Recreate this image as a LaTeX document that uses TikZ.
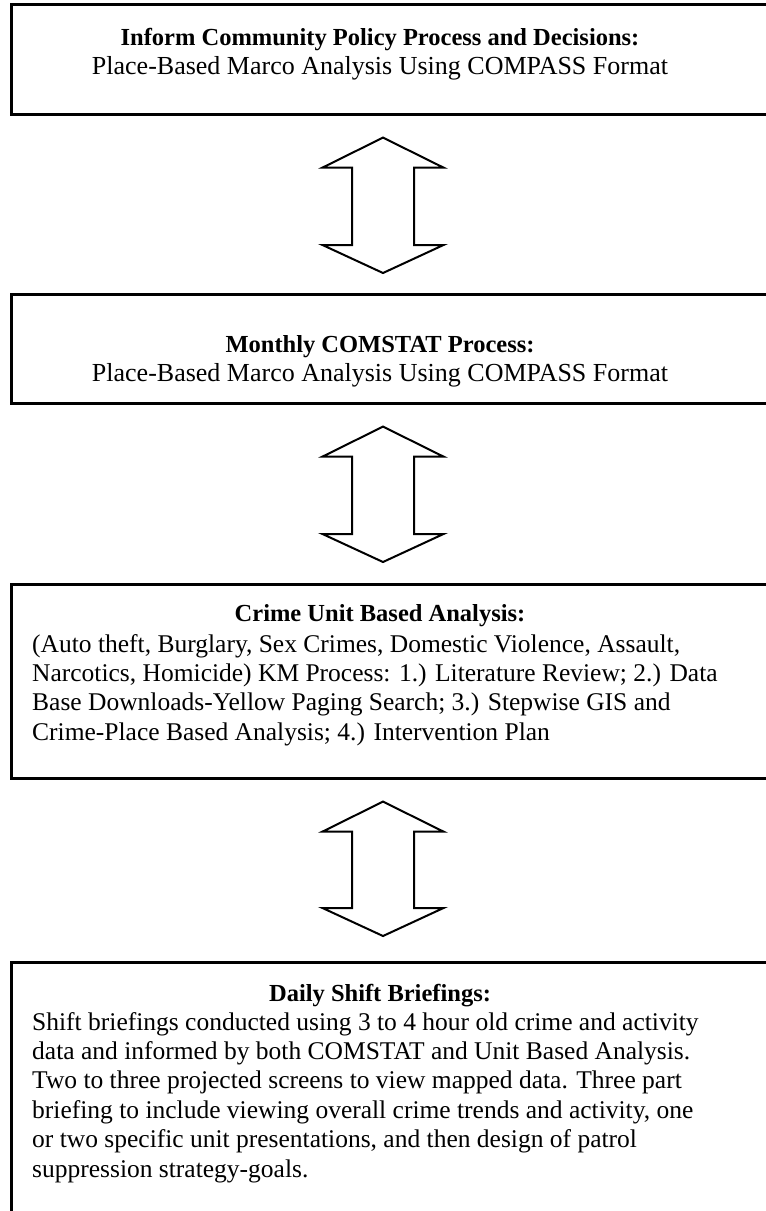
\documentclass[tikz,border=0pt]{standalone}
\usepackage{fontspec}
\setmainfont{Liberation Serif}
\usetikzlibrary{calc}
% hollow two-headed block arrow between an upper tip and a lower tip
\newcommand\dblblock[2]{%
  \draw[blockarrow] (#1) -- ++(60.5,-30) -- ++(-29.5,0) -- ($(#2)+(31,28)$)
    -- ++(29.5,0) -- (#2) -- ++(-60.5,28) -- ++(29.5,0)
    -- ($(#1)+(-31,-30)$) -- ++(-29.5,0) -- cycle;}
\begin{document}
\begin{tikzpicture}[x=1pt,y=1pt,
  box/.style={draw=black, line width=2.6pt, anchor=north west,
    minimum width=800pt, inner sep=0pt},
  head/.style={font=\fontsize{24.5}{29.4}\selectfont\bfseries, anchor=base, inner sep=0pt},
  sub/.style={font=\fontsize{26}{29.4}\selectfont, anchor=base, inner sep=0pt},
  body/.style={font=\fontsize{25.5}{29.4}\selectfont, align=left,
    anchor=north west, inner sep=0pt},
  blockarrow/.style={draw=black, line width=2pt, line join=miter, fill=white}]
\useasboundingbox (0,0) rectangle (766,-1211);
\clip (0,0) rectangle (766,-1211);

% the four stages
\node[box, minimum height=110pt] (b1) at (10,-3) {};
\node[box, minimum height=109pt] (b2) at (10,-293) {};
\node[box, minimum height=194pt] (b3) at (10,-583) {};
\node[box, minimum height=270pt] (b4) at (10,-961) {};

% texts
\node[head] (t1) at ($(b1.north west)+(370,-42)$) {Inform Community Policy Process and Decisions:};
\node[sub] (s1) at ($(t1.base)+(0,-29.4)$) {Place-Based Marco Analysis Using COMPASS Format};

\node[head] (t2) at ($(b2.north west)+(370,-59)$) {Monthly COMSTAT Process:};
\node[sub] (s2) at ($(t2.base)+(0,-29.4)$) {Place-Based Marco Analysis Using COMPASS Format};

\node[head] (t3) at ($(b3.north west)+(370,-38)$) {Crime Unit Based Analysis:};
\node[body] (s3) at ($(b3.north west)+(22,-51)$) {(Auto theft, Burglary, Sex Crimes, Domestic Violence, Assault,\\
Narcotics, Homicide) KM Process: 1.) Literature Review; 2.) Data\\
Base Downloads-Yellow Paging Search; 3.) Stepwise GIS and\\
Crime-Place Based Analysis; 4.) Intervention Plan};

\node[head] (t4) at ($(b4.north west)+(370,-40)$) {Daily Shift Briefings:};
\node[body] (s4) at ($(b4.north west)+(22,-51)$) {Shift briefings conducted using 3 to 4 hour old crime and activity\\
data and informed by both COMSTAT and Unit Based Analysis.\\
Two to three projected screens to view mapped data. Three part\\
briefing to include viewing overall crime trends and activity, one\\
or two specific unit presentations, and then design of patrol\\
suppression strategy-goals.};

% two-headed arrows linking neighbouring stages
\coordinate (a1t) at ($(b1.south west)+(373,-22)$);
\coordinate (a2t) at ($(b2.south west)+(373,-22)$);
\coordinate (a3t) at ($(b3.south west)+(373,-22)$);
\coordinate (a1b) at ($(b2.north west)+(373,20)$);
\coordinate (a2b) at ($(b3.north west)+(373,21)$);
\coordinate (a3b) at ($(b4.north west)+(373,25)$);
\dblblock{a1t}{a1b}
\dblblock{a2t}{a2b}
\dblblock{a3t}{a3b}
\end{tikzpicture}
\end{document}
